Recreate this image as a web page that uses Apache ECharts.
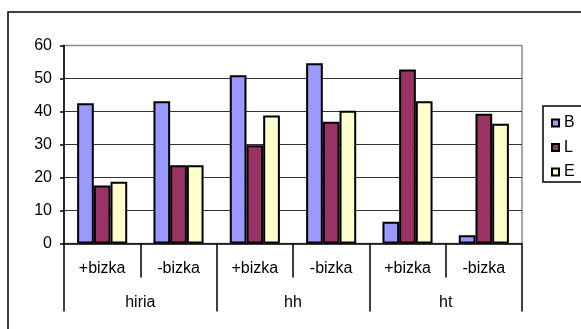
<!DOCTYPE html>
<html>
<head>
<meta charset="utf-8">
<script src="https://cdn.jsdelivr.net/npm/echarts@6/dist/echarts.min.js"></script>
<style>
  html, body { margin: 0; padding: 0; background: #fff; }
  #chart { width: 581px; height: 329px; }
</style>
</head>
<body>
<div id="chart"></div>
<script>
// Inner (sub-group) and outer (group) category labels
const subCategories = ['+bizka', '-bizka', '+bizka', '-bizka', '+bizka', '-bizka'];
const groups = ['hiria', 'hh', 'ht'];

// Series values, one per sub-category
const seriesNames = ['B', 'L', 'E'];
const valuesB = [42.5, 43.1, 51.0, 54.6, 6.6, 2.5];
const valuesL = [17.6, 23.7, 29.8, 36.9, 52.7, 39.3];
const valuesE = [18.7, 23.7, 38.8, 40.2, 43.1, 36.3];

// Value-axis ticks
const yMin = 0, yMax = 60, yStep = 10;

const colors = ['#9999FF', '#993366', '#FFFFCC'];
const font = 'Liberation Sans, Arial, sans-serif';

const chart = echarts.init(document.getElementById('chart'), null, { renderer: 'canvas' });

const makeBar = (name, data, i) => ({
  name: name,
  type: 'bar',
  xAxisIndex: 0,
  data: data,
  barWidth: 16.7,
  barGap: '0%',
  itemStyle: { color: colors[i], borderColor: '#000', borderWidth: 2 },
  emphasis: { disabled: true },
  animation: false
});

chart.setOption({
  backgroundColor: '#fff',
  animation: false,
  graphic: [{
    type: 'rect',
    shape: { x: 8, y: 12, width: 640, height: 400 },
    style: { fill: 'none', stroke: '#000', lineWidth: 1.5 },
    silent: true,
    z: -1
  }],
  grid: {
    left: 64, top: 45.5, width: 458, height: 198,
    show: true, borderColor: '#8c8c8c', borderWidth: 1.5,
    containLabel: false
  },
  legend: {
    orient: 'vertical',
    left: 543, top: 106,
    data: seriesNames,
    icon: 'rect',
    itemWidth: 7, itemHeight: 7,
    itemGap: 8.5,
    padding: [9, 14, 2, 8],
    borderColor: '#000', borderWidth: 1.5,
    textStyle: { fontFamily: font, fontSize: 16, color: '#000', padding: [0, 0, 0, 0] },
    selectedMode: false
  },
  xAxis: [{
    type: 'category',
    data: subCategories,
    position: 'bottom',
    axisLine: { show: true, lineStyle: { color: '#000', width: 1.5 } },
    axisTick: { show: true, interval: 0, length: 34, lineStyle: { color: '#000', width: 1.5 } },
    axisLabel: { interval: 0, margin: 17, fontFamily: font, fontSize: 16, color: '#000' },
    splitLine: { show: false }
  }, {
    type: 'category',
    data: groups,
    position: 'bottom',
    axisLine: { show: false },
    axisTick: { show: true, interval: 0, length: 68, lineStyle: { color: '#000', width: 1.5 } },
    axisLabel: { interval: 0, margin: 51, fontFamily: font, fontSize: 16, color: '#000' },
    splitLine: { show: false }
  }],
  yAxis: {
    type: 'value',
    min: yMin, max: yMax, interval: yStep,
    axisLine: { show: true, lineStyle: { color: '#000', width: 1.5 } },
    axisTick: { show: true, length: 4, lineStyle: { color: '#000', width: 1.5 } },
    axisLabel: { margin: 12, fontFamily: font, fontSize: 16, color: '#000' },
    splitLine: { show: true, showMinLine: false, showMaxLine: false, lineStyle: { color: '#333', width: 1 } }
  },
  series: [
    makeBar(seriesNames[0], valuesB, 0),
    makeBar(seriesNames[1], valuesL, 1),
    makeBar(seriesNames[2], valuesE, 2)
  ]
});
</script>
</body>
</html>
